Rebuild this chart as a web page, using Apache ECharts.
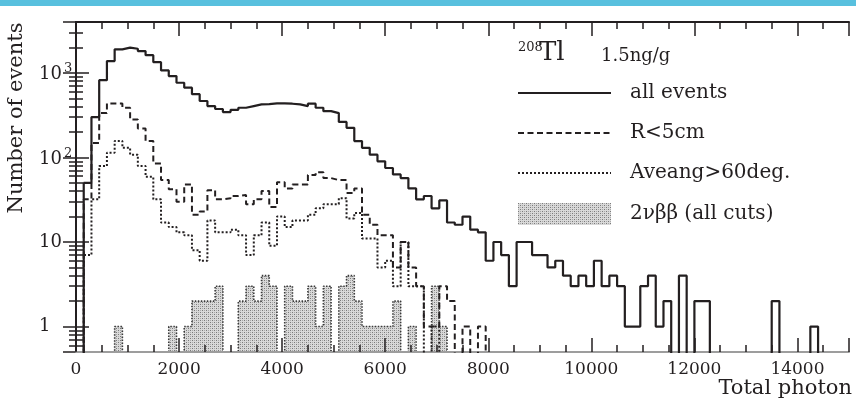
<!DOCTYPE html>
<html>
<head>
<meta charset="utf-8">
<script src="https://cdn.jsdelivr.net/npm/echarts@6/dist/echarts.min.js"></script>
<style>
  html, body { margin: 0; padding: 0; background: #ffffff; }
  #chart { width: 856px; height: 404px; }
</style>
</head>
<body>
<div id="chart"></div>
<script>
// Histogram binning of the total photon count
const BIN_WIDTH = 150;
const X_MAX = 15000;

// 208Tl (1.5 ng/g) events per bin, all events
const allEvents = [
  0, 50, 300, 820, 1380, 1900, 1990, 1930, 1810, 1620,
  1340, 1070, 916, 765, 668, 560, 465, 405, 374, 344,
  366, 387, 405, 424, 428, 435, 435, 432, 424, 405,
  432, 387, 353, 335, 263, 224, 156, 130, 108, 90,
  75, 63, 57, 43, 32, 35, 25, 31, 17, 16,
  20, 14, 13, 6, 10, 7, 3, 10, 10, 7,
  7, 5, 6, 4, 3, 4, 3, 6, 3, 4,
  3, 1, 1, 3, 4, 1, 2, 0, 4, 0,
  2, 2, 0, 0, 0, 0, 0, 0, 0, 0,
  2, 0, 0, 0, 0, 1, 0, 0, 0, 0
];

// After the R<5cm vertex cut
const rLess5cm = [
  0, 32, 148, 335, 435, 435, 387, 282, 220, 156,
  85, 54, 42, 30, 48, 21, 23, 41, 32, 33,
  35, 36, 28, 32, 40, 26, 51, 43, 48, 48,
  62, 67, 57, 54, 54, 38, 43, 21, 16, 12,
  12, 5, 10, 5, 3, 1, 1, 3, 2, 0,
  1, 0, 1, 0, 0, 0, 0, 0, 0, 0,
  0, 0, 0, 0, 0, 0, 0, 0, 0, 0,
  0, 0, 0, 0, 0, 0, 0, 0, 0, 0,
  0, 0, 0, 0, 0, 0, 0, 0, 0, 0,
  0, 0, 0, 0, 0, 0, 0, 0, 0, 0
];

// After the Aveang>60deg. cut
const aveang60 = [
  0, 7, 32, 79, 114, 157, 130, 108, 79, 59,
  32, 17, 15, 13, 12, 8, 6, 18, 13, 13,
  14, 12, 7, 12, 17, 9, 20, 15, 18, 18,
  21, 25, 28, 28, 33, 19, 22, 11, 11, 5,
  6, 3, 10, 3, 3, 0, 1, 0, 0, 0,
  0, 0, 0, 0, 0, 0, 0, 0, 0, 0,
  0, 0, 0, 0, 0, 0, 0, 0, 0, 0,
  0, 0, 0, 0, 0, 0, 0, 0, 0, 0,
  0, 0, 0, 0, 0, 0, 0, 0, 0, 0,
  0, 0, 0, 0, 0, 0, 0, 0, 0, 0
];

// 2vbb signal passing all cuts
const twoNuBB = [
  0, 0, 0, 0, 0, 1, 0, 0, 0, 0,
  0, 0, 1, 0, 1, 2, 2, 2, 3, 0,
  0, 2, 3, 2, 4, 3, 0, 3, 2, 2,
  3, 1, 3, 0, 3, 4, 2, 1, 1, 1,
  1, 2, 0, 1, 0, 0, 3, 1, 0, 0,
  0, 0, 0, 0, 0, 0, 0, 0, 0, 0,
  0, 0, 0, 0, 0, 0, 0, 0, 0, 0,
  0, 0, 0, 0, 0, 0, 0, 0, 0, 0,
  0, 0, 0, 0, 0, 0, 0, 0, 0, 0,
  0, 0, 0, 0, 0, 0, 0, 0, 0, 0
];

// Labelled decades on the log axis
const yLabelValues = [1, 10, 100, 1000];
const Y_MIN = 0.5;
const Y_MAX = 4000;

const seriesNames = ['all events', 'R<5cm', 'Aveang>60deg.', '2\u03bd\u03b2\u03b2 (all cuts)'];

const INK = '#231f20';
const SERIF = '"DejaVu Serif", "Liberation Serif", serif';

// Empty bins are sent below the axis floor so the step drops out of the frame.
const FLOOR = 0.1;
function stepPoints(counts) {
  const pts = counts.map((c, i) => [i * BIN_WIDTH, c > 0 ? c : FLOOR]);
  pts.push([counts.length * BIN_WIDTH, pts[pts.length - 1][1]]);
  return pts;
}

// Grey stipple used for the filled histogram
function stipple() {
  const c = document.createElement('canvas');
  c.width = 4; c.height = 4;
  const g = c.getContext('2d');
  g.fillStyle = '#d9d9d9'; g.fillRect(0, 0, 4, 4);
  g.fillStyle = '#7a7a7a'; g.fillRect(0, 0, 1, 1); g.fillRect(2, 2, 1, 1);
  g.fillStyle = '#a9a9a9'; g.fillRect(2, 0, 1, 1); g.fillRect(0, 2, 1, 1);
  return { image: c, repeat: 'repeat' };
}
const fillPattern = stipple();

const xAxisBase = {
  type: 'value', min: 0, max: X_MAX, interval: 2000,
  splitLine: { show: false },
  axisTick: { show: true, inside: true, length: 14, lineStyle: { color: INK, width: 1.5 } },
  minorTick: { show: true, splitNumber: 4, length: 7, lineStyle: { color: INK, width: 1.5 } }
};
const yAxisBase = {
  type: 'log', logBase: 10, min: Y_MIN, max: Y_MAX,
  splitLine: { show: false },
  axisLine: { show: true, lineStyle: { color: INK, width: 2 } },
  axisTick: { show: true, inside: true, length: 13, lineStyle: { color: INK, width: 1.5 } },
  minorTick: { show: true, splitNumber: 9, length: 7, lineStyle: { color: INK, width: 1.5 } }
};

// Line-only legend keys: the marker drawn by the line legend icon is hidden.
const hiddenMarker = { opacity: 0 };

const chart = echarts.init(document.getElementById('chart'), null, { renderer: 'canvas' });

chart.setOption({
  animation: false,
  backgroundColor: '#ffffff',
  grid: { left: 76, right: 7, top: 22, bottom: 52 },
  graphic: [
    { type: 'rect', left: 0, top: 0, shape: { width: 856, height: 6 }, style: { fill: '#58c0de' }, silent: true },
    {
      type: 'text', x: 17, y: 118, rotation: Math.PI / 2, silent: true,
      style: { text: 'Number of events', font: '21px ' + SERIF, fill: INK, align: 'center', verticalAlign: 'middle' }
    }
  ],
  title: [
    { text: '208', left: 513, top: 36, textStyle: { fontFamily: SERIF, fontSize: 13, fontWeight: 'normal', color: INK } },
    { text: 'Tl', left: 534, top: 35, textStyle: { fontFamily: SERIF, fontSize: 26, fontWeight: 'normal', color: INK } },
    { text: '1.5ng/g', left: 596, top: 42, textStyle: { fontFamily: SERIF, fontSize: 18, fontWeight: 'normal', color: INK } }
  ],
  legend: {
    left: 512, top: 78, orient: 'vertical',
    itemWidth: 93, itemHeight: 22, itemGap: 20,
    selectedMode: false,
    textStyle: { fontFamily: SERIF, fontSize: 20, color: INK, padding: [0, 0, 0, 14] },
    data: [
      { name: seriesNames[0], itemStyle: hiddenMarker },
      { name: seriesNames[1], itemStyle: hiddenMarker },
      { name: seriesNames[2], itemStyle: hiddenMarker },
      { name: seriesNames[3], icon: 'rect', itemStyle: { color: fillPattern, borderWidth: 0 } }
    ]
  },
  xAxis: [
    Object.assign({}, xAxisBase, {
      position: 'bottom', z: 3,
      name: 'Total photon', nameLocation: 'end', nameGap: 3,
      nameTextStyle: { fontFamily: SERIF, fontSize: 21, color: INK, align: 'right', verticalAlign: 'top', padding: [26, 0, 0, 0] },
      axisLine: { show: true, lineStyle: { color: '#9d9d9d', width: 2 } },
      axisLabel: {
        show: true, margin: 9, fontFamily: SERIF, fontSize: 17, color: INK, showMaxLabel: false,
        formatter: function (v) { return String(v); }
      }
    }),
    Object.assign({}, xAxisBase, {
      position: 'top',
      axisLine: { show: true, lineStyle: { color: INK, width: 2 } },
      axisLabel: { show: false }
    })
  ],
  yAxis: [
    Object.assign({}, yAxisBase, {
      position: 'left',
      axisLabel: {
        show: true, align: 'left', margin: 37, showMinLabel: false, showMaxLabel: false,
        formatter: function (v) {
          if (yLabelValues.indexOf(v) < 0) return '';
          const e = Math.round(Math.log10(v));
          return e >= 2 ? '{m|10}{s|' + e + '}' : '{m|' + v + '}';
        },
        rich: {
          m: { fontFamily: SERIF, fontSize: 18, color: INK, verticalAlign: 'bottom' },
          s: { fontFamily: SERIF, fontSize: 13, color: INK, padding: [0, 0, 8, 2] }
        }
      }
    }),
    Object.assign({}, yAxisBase, {
      position: 'right',
      axisLabel: { show: false }
    })
  ],
  series: [
    {
      name: seriesNames[3], type: 'line', step: 'end', symbol: 'none',
      data: stepPoints(twoNuBB),
      lineStyle: { color: '#3a3a3a', width: 1.6, type: [1.5, 1.5] },
      itemStyle: { color: '#3a3a3a' },
      areaStyle: { color: fillPattern, opacity: 1, origin: 'start' },
      z: 2
    },
    {
      name: seriesNames[2], type: 'line', step: 'end', symbol: 'none',
      data: stepPoints(aveang60),
      lineStyle: { color: INK, width: 2, type: [2, 2] },
      itemStyle: { color: INK },
      z: 3
    },
    {
      name: seriesNames[1], type: 'line', step: 'end', symbol: 'none',
      data: stepPoints(rLess5cm),
      lineStyle: { color: INK, width: 2, type: [6, 3.5] },
      itemStyle: { color: INK },
      z: 4
    },
    {
      name: seriesNames[0], type: 'line', step: 'end', symbol: 'none',
      data: stepPoints(allEvents),
      lineStyle: { color: INK, width: 2.2 },
      itemStyle: { color: INK },
      z: 5
    }
  ]
});
</script>
</body>
</html>
